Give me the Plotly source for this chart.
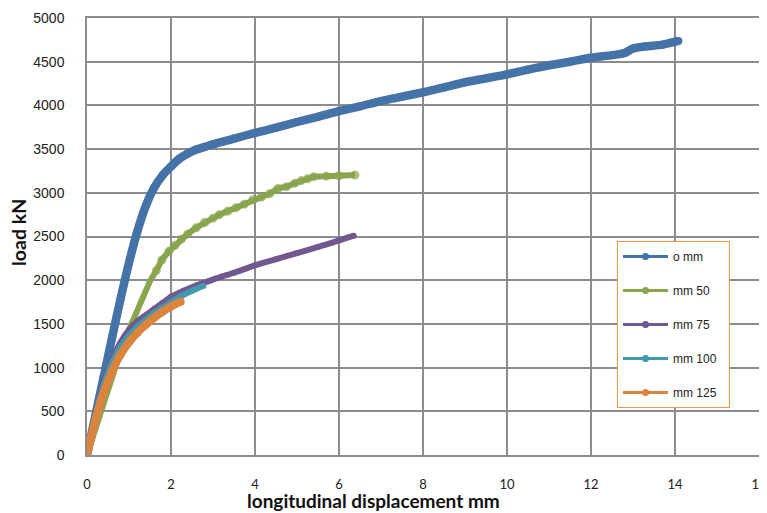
import plotly.graph_objects as go

# ---- data ----
x_0mm = [0, 0.2, 0.4, 0.6, 0.8, 1.0, 1.2, 1.4, 1.6, 1.8, 2.0, 2.2, 2.4, 2.6, 2.8, 3.0, 3.5,
         4.0, 4.5, 5.0, 5.5, 6.0, 6.5, 7.0, 7.5, 8.0, 8.5, 9.0, 9.5, 10.0, 10.5, 11.0, 11.5,
         12.0, 12.5, 12.8, 13.0, 13.3, 13.7, 14.08]
y_0mm = [0, 450, 900, 1350, 1790, 2200, 2560, 2850, 3060, 3200, 3300, 3390, 3450, 3495, 3525, 3555, 3620,
         3685, 3745, 3810, 3870, 3935, 3990, 4050, 4100, 4150, 4205, 4265, 4310, 4356, 4410, 4460, 4500,
         4545, 4575, 4600, 4650, 4675, 4695, 4737]

x_50 = [0, 0.17, 0.33, 0.5, 0.67, 0.85, 1.06, 1.2, 1.35, 1.5, 1.65, 1.78, 1.95, 2.1, 2.25, 2.4,
        2.6, 2.8, 3.0, 3.15, 3.35, 3.55, 3.75, 3.95, 4.15, 4.35, 4.55, 4.75, 4.95, 5.1, 5.25,
        5.4, 5.7, 6.0, 6.38]
y_50 = [0, 250, 500, 760, 1000, 1260, 1500, 1660, 1830, 1990, 2110, 2231, 2330, 2400, 2470, 2530,
        2600, 2660, 2710, 2750, 2790, 2830, 2870, 2920, 2950, 2990, 3050, 3070, 3110, 3140, 3160,
        3185, 3190, 3195, 3204]

x_75 = [0, 0.2, 0.4, 0.6, 0.8, 1.0, 1.2, 1.4, 1.6, 1.8, 2.0, 2.3, 2.6, 2.9, 3.2, 3.5, 4.0,
        4.5, 5.0, 5.5, 6.0, 6.35]
y_75 = [0, 480, 840, 1100, 1290, 1430, 1530, 1600, 1670, 1740, 1810, 1880, 1940, 1990, 2040, 2085,
        2170, 2240, 2310, 2380, 2455, 2510]

x_100 = [0, 0.2, 0.4, 0.6, 0.8, 1.0, 1.2, 1.4, 1.6, 1.8, 2.0, 2.25, 2.5, 2.77]
y_100 = [0, 460, 800, 1060, 1240, 1370, 1470, 1550, 1625, 1690, 1750, 1820, 1880, 1934]

x_125 = [0, 0.2, 0.4, 0.6, 0.8, 1.0, 1.2, 1.4, 1.6, 1.8, 2.0, 2.23]
y_125 = [0, 400, 720, 960, 1150, 1290, 1400, 1490, 1570, 1640, 1700, 1754]

names = ["o mm", "mm 50", "mm 75", "mm 100", "mm 125"]
colors = ["#4572A7", "#89A54E", "#71588F", "#4198AF", "#DB843D"]
xs = [x_0mm, x_50, x_75, x_100, x_125]
ys = [y_0mm, y_50, y_75, y_100, y_125]
line_w = [8.5, 6, 6, 6, 8]
mark_s = [8, 9, 6, 6, 8]

x_ticks = [0, 2, 4, 6, 8, 10, 12, 14, 16]
y_ticks = [0, 500, 1000, 1500, 2000, 2500, 3000, 3500, 4000, 4500, 5000]

fig = go.Figure()
for i in range(5):
    sizes = mark_s[i]
    if i == 1:
        # beads only visible on the upper, flatter part of this curve
        sizes = [mark_s[i] if v >= 2100 else 0 for v in ys[i]]
    fig.add_trace(go.Scatter(
        x=xs[i], y=ys[i], mode="lines+markers", name=names[i],
        line=dict(color=colors[i], width=line_w[i],
                  shape="spline" if i != 1 else "linear", smoothing=0.7),
        marker=dict(color=colors[i], size=sizes, line=dict(width=0)),
        showlegend=False, hoverinfo="skip"))
for i in range(5):
    fig.add_trace(go.Scatter(
        x=[None], y=[None], mode="lines+markers", name=names[i] + "\u00a0\u00a0",
        line=dict(color=colors[i], width=3), marker=dict(color=colors[i], size=7),
        legendgroup=names[i], showlegend=True))

# page body has an 8px default margin, so the figure is drawn 8px in from the corner
PL, PR, PT, PB = 87 - 8, 759 - 8, 18 - 8, 455 - 8   # plot area in figure pixels
W, H = 767, 513
PW, PH = PR - PL, PB - PT

def px(xp):   # viewport x pixel -> paper x
    return (xp - 8 - PL) / PW

def py(yp):   # viewport y pixel -> paper y
    return (PB - (yp - 8)) / PH

grid = "#8c8c8c"
fig.update_layout(
    width=W, height=H,
    margin=dict(l=PL, r=W - PR, t=PT, b=H - PB, autoexpand=False),
    paper_bgcolor="white", plot_bgcolor="white",
    showlegend=True,
    legend=dict(
        x=px(617), y=py(241), xanchor="left", yanchor="top",
        bgcolor="white", bordercolor="#F79646", borderwidth=1,
        font=dict(family="Liberation Sans, Arial", size=12, color="#222"),
        tracegroupgap=15, itemwidth=45,
    ),
    xaxis=dict(
        range=[0, 16], tickvals=x_ticks, ticktext=[str(v) for v in x_ticks],
        showgrid=True, gridcolor=grid, gridwidth=1.5,
        showline=True, linecolor=grid, linewidth=1.5, mirror=True,
        zeroline=False, ticks="", automargin=False,
        tickfont=dict(family="Lato, Open Sans", size=13, color="#222"),
        ticklabelstandoff=17,
    ),
    yaxis=dict(
        range=[0, 5000], tickvals=y_ticks, ticktext=[str(v) for v in y_ticks],
        showgrid=True, gridcolor=grid, gridwidth=1.5,
        showline=True, linecolor=grid, linewidth=1.5, mirror=True,
        zeroline=False, ticks="", automargin=False,
        tickfont=dict(family="Liberation Sans, Arial", size=14, color="#222"),
        ticklabelstandoff=18,
    ),
    annotations=[
        dict(text="<b>longitudinal displacement mm</b>", xref="paper", yref="paper",
             x=px(373), y=py(501), xanchor="center", yanchor="middle",
             showarrow=False, font=dict(family="Lato, Open Sans", size=19, color="#111")),
        dict(text="<b>load kN</b>", xref="paper", yref="paper", textangle=-90,
             x=px(18), y=py(233), xanchor="center", yanchor="middle",
             showarrow=False, font=dict(family="Lato, Open Sans", size=19.5, color="#111")),
    ],
)

fig.write_html("out.html")
